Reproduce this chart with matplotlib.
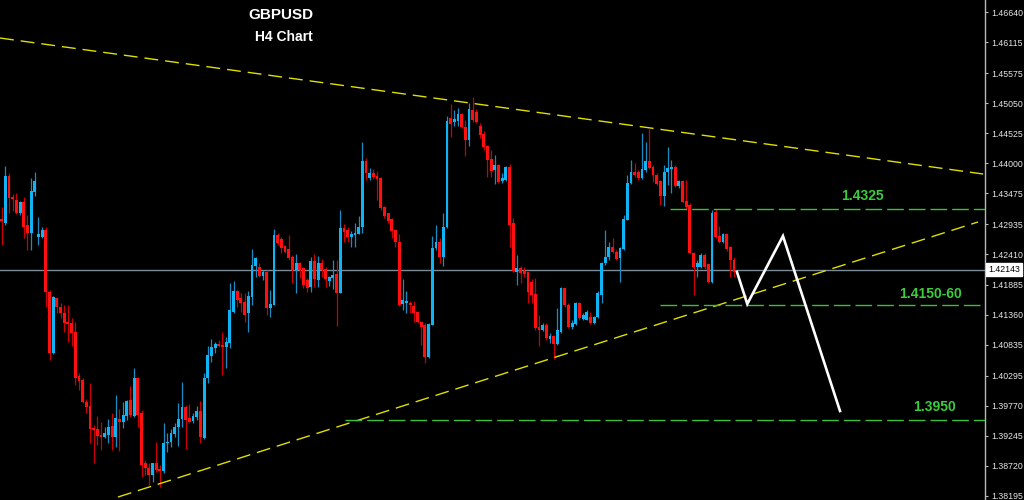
import matplotlib
matplotlib.use('Agg')
import matplotlib.pyplot as plt
import matplotlib.transforms as mtrans
import numpy as np

# ---------------- data (GBPUSD H4 candles) ----------------
opens = [1.4303,1.4296,1.4378,1.4341,1.4336,1.4314,1.4333,1.4293,1.4279,1.4350,
         1.4271,1.4271,1.4284,1.4175,1.4069,1.4165,1.4149,1.4139,1.4123,1.4122,
         1.4106,1.4029,1.4022,1.3984,1.3977,1.3938,1.3937,1.3926,1.3923,1.3926,
         1.3942,1.3923,1.3954,1.3949,1.3959,1.3987,1.3959,1.4025,1.3964,1.3877,
         1.3868,1.3856,1.3877,1.3867,1.3863,1.3912,1.3914,1.3928,1.3940,1.3954,
         1.3975,1.3956,1.3950,1.3957,1.3968,1.3921,1.4025,1.4064,1.4078,1.4085,
         1.4083,1.4079,1.4086,1.4141,1.4177,1.4165,1.4158,1.4139,1.4167,1.4221,
         1.4219,1.4203,1.4210,1.4148,1.4153,1.4275,1.4268,1.4256,1.4251,1.4237,
         1.4214,1.4226,1.4217,1.4196,1.4184,1.4230,1.4196,1.4226,1.4216,1.4195,
         1.4200,1.4207,1.4174,1.4287,1.4284,1.4272,1.4275,1.4277,1.4289,1.4404,
         1.4374,1.4383,1.4378,1.4374,1.4324,1.4314,1.4303,1.4284,1.4263,1.4155,
         1.4156,1.4156,1.4151,1.4141,1.4123,1.4118,1.4062,1.4118,1.4252,1.4263,
         1.4237,1.4289,1.4479,1.4472,1.4474,1.4486,1.4463,1.4441,1.4493,1.4490,
         1.4465,1.4451,1.4430,1.4408,1.4388,1.4397,1.4369,1.4371,1.4394,1.4296,
         1.4210,1.4217,1.4212,1.4210,1.4193,1.4172,1.4114,1.4109,1.4118,1.4093,
         1.4099,1.4085,1.4106,1.4183,1.4153,1.4114,1.4120,1.4156,1.4128,1.4127,
         1.4132,1.4122,1.4132,1.4170,1.4226,1.4237,1.4254,1.4245,1.4235,1.4251,
         1.4301,1.4366,1.4385,1.4385,1.4374,1.4388,1.4404,1.4394,1.4380,1.4369,
         1.4343,1.4385,1.4390,1.4394,1.4360,1.4369,1.4334,1.4327,1.4244,1.4219,
         1.4219,1.4240,1.4224,1.4193,1.4315,1.4273,1.4263,1.4277,1.4254,1.4231]
highs = [1.4324,1.4395,1.4383,1.4346,1.4348,1.4334,1.4341,1.4310,1.4374,1.4385,
         1.4306,1.4288,1.4288,1.4179,1.4169,1.4167,1.4156,1.4153,1.4153,1.4130,
         1.4123,1.4034,1.4025,1.3989,1.4016,1.3943,1.3959,1.3949,1.3939,1.3954,
         1.3965,1.3996,1.3972,1.3984,1.3987,1.4011,1.4043,1.4027,1.3970,1.3883,
         1.3877,1.3877,1.3914,1.3874,1.3947,1.3930,1.3937,1.3947,1.3982,1.4018,
         1.3979,1.3980,1.3965,1.3977,1.3985,1.4034,1.4081,1.4093,1.4088,1.4092,
         1.4106,1.4097,1.4191,1.4195,1.4179,1.4174,1.4174,1.4177,1.4251,1.4237,
         1.4226,1.4214,1.4214,1.4179,1.4286,1.4279,1.4272,1.4258,1.4275,1.4240,
         1.4242,1.4228,1.4219,1.4200,1.4237,1.4242,1.4238,1.4233,1.4219,1.4203,
         1.4231,1.4231,1.4319,1.4294,1.4289,1.4281,1.4296,1.4308,1.4437,1.4409,
         1.4392,1.4390,1.4387,1.4376,1.4326,1.4314,1.4305,1.4286,1.4277,1.4198,
         1.4177,1.4160,1.4160,1.4142,1.4125,1.4122,1.4122,1.4273,1.4293,1.4270,
         1.4314,1.4483,1.4504,1.4493,1.4497,1.4488,1.4475,1.4505,1.4516,1.4495,
         1.4470,1.4456,1.4432,1.4423,1.4415,1.4399,1.4383,1.4395,1.4399,1.4305,
         1.4240,1.4221,1.4219,1.4210,1.4198,1.4200,1.4135,1.4122,1.4122,1.4104,
         1.4100,1.4148,1.4184,1.4183,1.4156,1.4127,1.4158,1.4158,1.4139,1.4144,
         1.4141,1.4134,1.4177,1.4228,1.4284,1.4263,1.4270,1.4249,1.4254,1.4310,
         1.4380,1.4406,1.4401,1.4388,1.4453,1.4437,1.4460,1.4397,1.4383,1.4371,
         1.4397,1.4429,1.4406,1.4397,1.4371,1.4371,1.4371,1.4331,1.4245,1.4231,
         1.4244,1.4244,1.4226,1.4319,1.4321,1.4291,1.4279,1.4279,1.4256,1.4237]
lows = [1.4258,1.4293,1.4314,1.4316,1.4312,1.4310,1.4270,1.4249,1.4249,1.4343,
        1.4258,1.4270,1.4149,1.4057,1.4067,1.4139,1.4130,1.4106,1.4088,1.4081,
        1.4013,1.4004,1.3982,1.3965,1.3912,1.3877,1.3909,1.3900,1.3921,1.3912,
        1.3900,1.3905,1.3898,1.3938,1.3952,1.3958,1.3958,1.3940,1.3853,1.3856,
        1.3839,1.3844,1.3861,1.3835,1.3860,1.3896,1.3905,1.3923,1.3907,1.3940,
        1.3902,1.3947,1.3947,1.3952,1.3912,1.3919,1.4016,1.4053,1.4069,1.4079,
        1.4031,1.4043,1.4078,1.4139,1.4149,1.4141,1.4123,1.4106,1.4153,1.4202,
        1.4202,1.4196,1.4135,1.4132,1.4153,1.4258,1.4244,1.4244,1.4231,1.4191,
        1.4174,1.4200,1.4183,1.4175,1.4175,1.4184,1.4184,1.4202,1.4184,1.4186,
        1.4181,1.4116,1.4174,1.4263,1.4263,1.4254,1.4254,1.4277,1.4279,1.4371,
        1.4371,1.4373,1.4336,1.4319,1.4305,1.4296,1.4270,1.4254,1.4151,1.4144,
        1.4139,1.4139,1.4123,1.4122,1.4083,1.4052,1.4060,1.4118,1.4249,1.4226,
        1.4221,1.4287,1.4446,1.4465,1.4465,1.4461,1.4412,1.4430,1.4472,1.4470,
        1.4444,1.4423,1.4376,1.4376,1.4364,1.4366,1.4366,1.4369,1.4254,1.4210,
        1.4188,1.4191,1.4202,1.4156,1.4156,1.4109,1.4081,1.4107,1.4092,1.4086,
        1.4059,1.4083,1.4104,1.4149,1.4113,1.4111,1.4118,1.4127,1.4127,1.4127,
        1.4120,1.4120,1.4130,1.4156,1.4223,1.4231,1.4244,1.4231,1.4193,1.4249,
        1.4301,1.4364,1.4376,1.4371,1.4373,1.4385,1.4390,1.4367,1.4362,1.4327,
        1.4326,1.4362,1.4348,1.4359,1.4357,1.4331,1.4320,1.4244,1.4170,1.4202,
        1.4217,1.4216,1.4191,1.4191,1.4270,1.4261,1.4261,1.4247,1.4202,1.4202]
closes = [1.4299,1.4378,1.4340,1.4338,1.4314,1.4333,1.4289,1.4279,1.4352,1.4369,
          1.4277,1.4284,1.4175,1.4069,1.4167,1.4149,1.4139,1.4122,1.4120,1.4104,
          1.4025,1.4020,1.3984,1.3975,1.3937,1.3935,1.3924,1.3923,1.3930,1.3940,
          1.3923,1.3956,1.3949,1.3961,1.3985,1.3961,1.4025,1.3961,1.3874,1.3868,
          1.3856,1.3877,1.3865,1.3863,1.3912,1.3914,1.3930,1.3940,1.3954,1.3975,
          1.3952,1.3949,1.3959,1.3968,1.3923,1.4025,1.4066,1.4079,1.4085,1.4081,
          1.4079,1.4088,1.4144,1.4177,1.4162,1.4156,1.4135,1.4169,1.4223,1.4235,
          1.4203,1.4210,1.4148,1.4155,1.4275,1.4261,1.4252,1.4245,1.4235,1.4214,
          1.4226,1.4214,1.4188,1.4183,1.4230,1.4198,1.4226,1.4214,1.4198,1.4202,
          1.4205,1.4174,1.4287,1.4280,1.4272,1.4277,1.4279,1.4289,1.4404,1.4383,
          1.4383,1.4376,1.4373,1.4322,1.4308,1.4299,1.4282,1.4263,1.4153,1.4162,
          1.4160,1.4153,1.4139,1.4123,1.4114,1.4062,1.4120,1.4252,1.4263,1.4237,
          1.4289,1.4474,1.4469,1.4477,1.4486,1.4463,1.4441,1.4495,1.4475,1.4472,
          1.4449,1.4429,1.4406,1.4387,1.4397,1.4367,1.4374,1.4394,1.4293,1.4212,
          1.4217,1.4209,1.4207,1.4175,1.4170,1.4113,1.4109,1.4118,1.4095,1.4099,
          1.4085,1.4109,1.4183,1.4153,1.4114,1.4121,1.4156,1.4130,1.4135,1.4141,
          1.4122,1.4132,1.4174,1.4226,1.4237,1.4254,1.4245,1.4233,1.4252,1.4303,
          1.4366,1.4385,1.4380,1.4374,1.4390,1.4404,1.4392,1.4380,1.4364,1.4343,
          1.4385,1.4392,1.4394,1.4360,1.4369,1.4333,1.4324,1.4244,1.4219,1.4226,
          1.4240,1.4219,1.4193,1.4314,1.4272,1.4263,1.4277,1.4251,1.4231,1.4210]

current_price = 1.42143
price_ticks = [1.46640, 1.46115, 1.45575, 1.45050, 1.44525, 1.44000, 1.43475,
               1.42935, 1.42410, 1.41885, 1.41360, 1.40835, 1.40295, 1.39770,
               1.39245, 1.38720, 1.38195]

# trend lines (bar index, price)
upper_trend_x = [-0.46, 266.7]
upper_trend_y = [1.46186, 1.43813]
lower_trend_x = [31.6, 265.3]
lower_trend_y = [1.38177, 1.42976]

# horizontal levels
level_prices = [1.4320, 1.4153, 1.3952]
level_start = [181.6, 178.9, 93.3]
level_labels = ['1.4325', '1.4150-60', '1.3950']
label_x = [233.8, 252.3, 253.6]
label_y = [1.43429, 1.41719, 1.39748]

# projected path
path_x = [199.8, 202.6, 212.3, 227.8]
path_y = [1.42103, 1.41545, 1.42731, 1.39678]

# ---------------- drawing ----------------
plt.rcParams['font.family'] = ['Liberation Sans', 'DejaVu Sans']

fig = plt.figure(figsize=(10.24, 5.0), dpi=100, facecolor='black')
ax = fig.add_axes([0, 0, 985 / 1024, 1])
ax.set_facecolor('black')

XMIN, XMAX = -0.46, 267.2
YMIN, YMAX = 1.381249, 1.468494
ax.set_xlim(XMIN, XMAX)
ax.set_ylim(YMIN, YMAX)

o = np.array(opens); h = np.array(highs); l = np.array(lows); c = np.array(closes)
idx = np.arange(len(o))
bull = c >= o
body_col = np.where(bull, '#0fb4f5', '#ff1010')
wick_col = np.where(bull, '#1a8cc4', '#cc0000')

ax.axhline(current_price, color='#7d8b99', lw=1.0, zorder=1)

ax.vlines(idx, l, h, colors=wick_col, lw=0.9, zorder=2)
bottom = np.minimum(o, c)
height = np.maximum(np.abs(c - o), 0.00012)
ax.bar(idx, height, bottom=bottom, width=0.78, color=body_col, linewidth=0, zorder=3)

# trend lines
ax.plot(upper_trend_x, upper_trend_y, color='#e0e000', lw=1.0,
        linestyle=(0, (10, 5)), zorder=4)
ax.plot(lower_trend_x, lower_trend_y, color='#e0e000', lw=1.0,
        linestyle=(0, (10, 5)), zorder=4)

# levels
for lp, ls, lab, lx, ly in zip(level_prices, level_start, level_labels, label_x, label_y):
    ax.plot([ls, XMAX], [lp, lp], color='#3cc03c', lw=1.0,
            linestyle=(0, (12, 3.6)), zorder=4)
    ax.text(lx, ly, lab, color='#3ccc3c', fontsize=10, fontweight='bold',
            ha='center', va='center', zorder=6)

# projected path
ax.plot(path_x, path_y, color='white', lw=1.9, solid_joinstyle='miter', zorder=5)

# axes styling
for s in ['top', 'left', 'bottom']:
    ax.spines[s].set_visible(False)
ax.spines['right'].set_color('#b8b8b8')
ax.spines['right'].set_linewidth(1.0)
ax.set_xticks([])
ax.yaxis.tick_right()
ax.set_yticks(price_ticks)
ax.set_yticklabels(['%.5f' % t for t in price_ticks])
ax.tick_params(axis='y', direction='out', length=2.5, width=0.8, color='#b8b8b8',
               labelcolor='#e6e6e6', labelsize=6.3, pad=2)

trans = mtrans.blended_transform_factory(ax.transAxes, ax.transData)
ax.text(1.003, current_price, '%.5f' % current_price, transform=trans,
        ha='left', va='center', fontsize=6.3, color='black',
        bbox=dict(facecolor='white', edgecolor='white', pad=1.4), clip_on=False)

# titles
fig.text(281 / 1024, 1 - 15 / 500, 'GBPUSD', color='white', fontsize=11,
         fontweight='bold', ha='center', va='center')
fig.text(284 / 1024, 1 - 37 / 500, 'H4 Chart', color='white', fontsize=10,
         fontweight='bold', ha='center', va='center')

fig.savefig('out.png', dpi=100, facecolor='black')
